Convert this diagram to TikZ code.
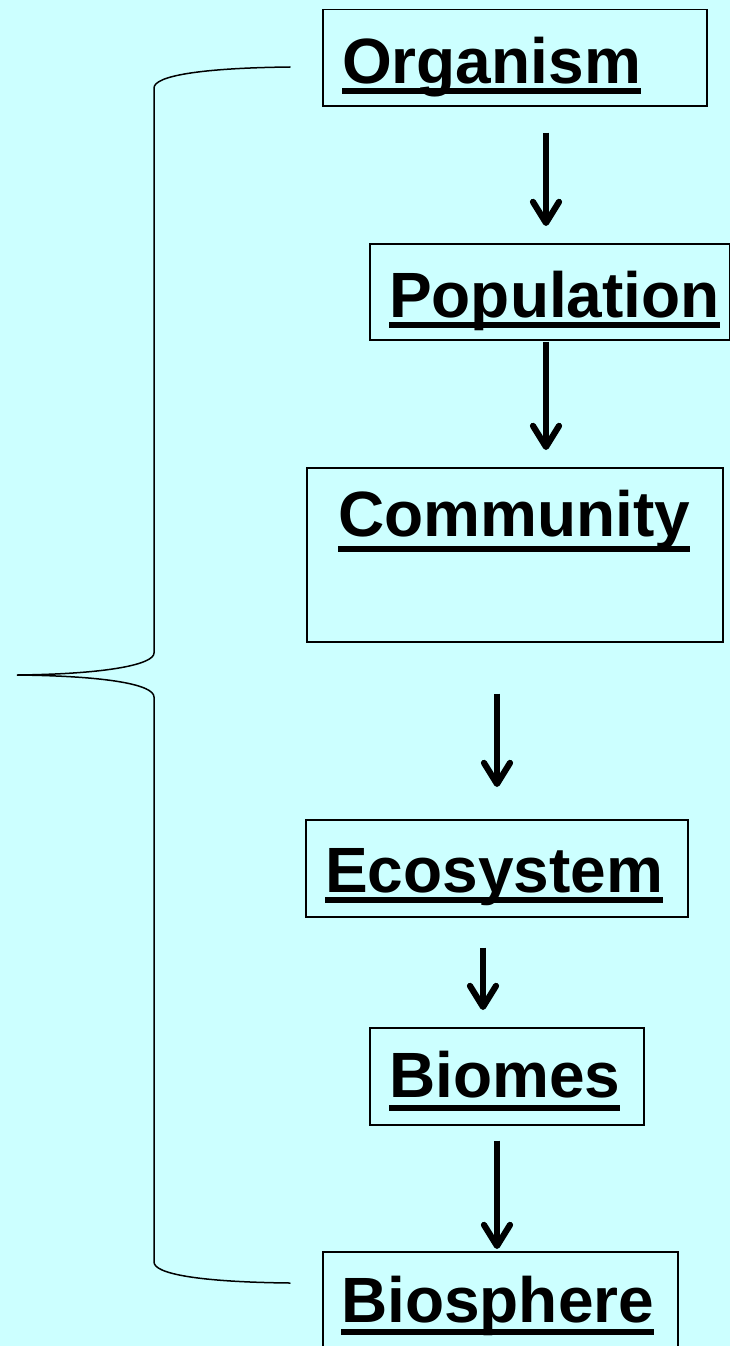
\documentclass[tikz,border=0pt]{standalone}
\usepackage{fontspec}
\setmainfont{Liberation Sans}
\usetikzlibrary{arrows.meta}
\definecolor{bgcyan}{RGB}{204,255,255}
\newsavebox\ulsavebox
\newcommand\ulw[2][11pt]{\sbox\ulsavebox{#2}\rlap{\rule[-#1]{\wd\ulsavebox}{6pt}}\usebox\ulsavebox}
\tikzset{
  box/.style={draw=black, line width=1.5pt, rectangle, anchor=north west, inner sep=0pt},
  lbl/.style={anchor=base west, inner sep=0pt, font=\fontsize{64}{70}\selectfont\bfseries},
  arr/.style={line width=6.2pt, -{Straight Barb[round, length=21pt, width=26pt]}},
  bracestyle/.style={line width=1.5pt, line cap=round}
}
\begin{document}
\begin{tikzpicture}[x=1pt,y=-1pt]
\useasboundingbox (0,0) rectangle (730,1346);
\fill[bgcyan] (0,0) rectangle (730,1346);
% boxes
\node[box, minimum width=384pt, minimum height=96pt] (org) at (322,9) {};
\node[box, minimum width=360pt, minimum height=96pt] (pop) at (369,243) {};
\node[box, minimum width=416pt, minimum height=174pt] (com) at (306,467) {};
\node[box, minimum width=382pt, minimum height=97pt] (eco) at (305,819) {};
\node[box, minimum width=274pt, minimum height=97pt] (bio) at (369,1027) {};
\node[box, minimum width=355pt, minimum height=100pt] (bsp) at (322,1251) {};
% labels
\node[lbl] (orgt) at (342,84) {\ulw[10pt]{Organism}};
\node[lbl] (popt) at (389,317) {\ulw[11pt]{Population}};
\node[lbl] (comt) at (338,536) {\ulw[16pt]{Community}};
\node[lbl] (ecot) at (325,892) {\ulw[11pt]{Ecosystem}};
\node[lbl] (biot) at (389,1097) {\ulw[14pt]{Biomes}};
\node[lbl] (bspt) at (341,1322) {\ulw[13pt]{Biosphere}};
% arrow columns
\coordinate (c1) at (546,0);
\coordinate (c2) at (546,0);
\coordinate (c3) at (497,0);
\coordinate (c4) at (483,0);
\coordinate (c5) at (497,0);
\draw[arr] ([yshift=-26pt]org.south -| c1) -- ([yshift=17pt]pop.north -| c1);
\draw[arr] ([yshift=-1pt]pop.south -| c2) -- ([yshift=17pt]com.north -| c2);
\draw[arr] ([yshift=-51pt]com.south -| c3) -- ([yshift=32pt]eco.north -| c3);
\draw[arr] ([yshift=-30pt]eco.south -| c4) -- ([yshift=17pt]bio.north -| c4);
\draw[arr] ([yshift=-15pt]bio.south -| c5) -- ([yshift=2pt]bsp.north -| c5);
% brace
\draw[bracestyle] (290,67) .. controls (200,68) and (154,76) .. (154,88)
  -- (154,653) .. controls (154,664) and (110,674) .. (17,675)
  .. controls (110,676) and (154,685) .. (154,697)
  -- (154,1262) .. controls (154,1274) and (200,1282) .. (290,1283);
\end{tikzpicture}
\end{document}
